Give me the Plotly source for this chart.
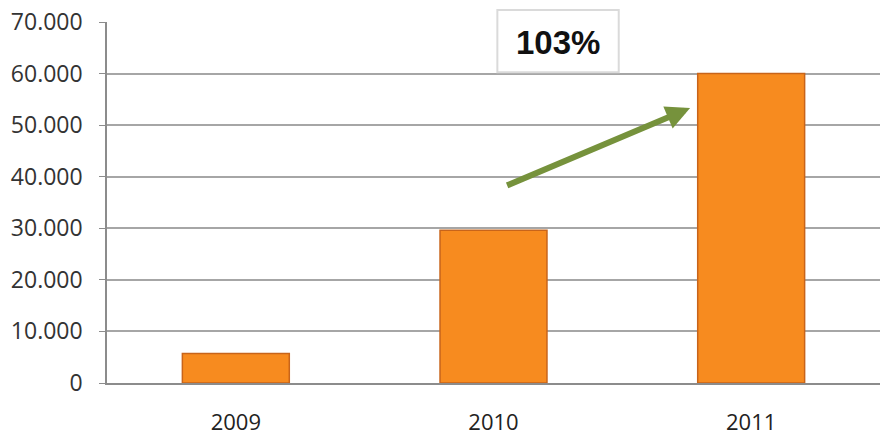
import plotly.graph_objects as go

years = ["2009", "2010", "2011"]
values = [5700, 29600, 60000]
y_ticks = [0, 10000, 20000, 30000, 40000, 50000, 60000, 70000]
y_tick_labels = ["0", "10.000", "20.000", "30.000", "40.000", "50.000", "60.000", "70.000"]
growth_label = "103%"

fig = go.Figure()
fig.add_trace(go.Bar(
    x=years, y=values, width=0.415,
    marker=dict(color="#F78B1F", line=dict(color="#C8641A", width=1.5)),
    showlegend=False,
))

# growth arrow
fig.add_annotation(
    x=1.763, y=53300, ax=1.047, ay=38200,
    xref="x", yref="y", axref="x", ayref="y",
    showarrow=True, arrowhead=2, arrowsize=0.8, arrowwidth=6,
    arrowcolor="#76923C", text="",
)

# label box
fig.add_shape(type="rect", xref="paper", yref="paper",
              x0=0.505, x1=0.662, y0=0.861, y1=1.033,
              fillcolor="white", line=dict(color="#DADADA", width=2))
fig.add_annotation(x=0.584, y=0.943, xref="paper", yref="paper",
                   xanchor="center", yanchor="middle",
                   text="<b>" + growth_label + "</b>", showarrow=False,
                   font=dict(size=33, color="#111111", family="Liberation Sans"))

fig.update_layout(
    width=891, height=439,
    margin=dict(l=107, r=11, t=22, b=56),
    paper_bgcolor="white", plot_bgcolor="white",
    font=dict(family="Open Sans", size=16, color="#333333"),
    bargap=0.585,
    xaxis=dict(showline=True, linecolor="#8C8C8C", linewidth=1.5,
               ticks="", ticklabelstandoff=19, automargin=False,
               tickfont=dict(size=22, color="#222222"),
               showgrid=False),
    yaxis=dict(range=[0, 70000], tickvals=y_ticks, ticktext=y_tick_labels,
               showgrid=True, gridcolor="#A6A6A6", gridwidth=1.5,
               showline=True, linecolor="#8C8C8C", linewidth=1.5,
               ticks="outside", ticklen=6, tickcolor="#8C8C8C",
               ticklabelstandoff=12, automargin=False,
               tickfont=dict(size=23, color="#333333"), zeroline=False),
)

fig.write_html("out.html")
